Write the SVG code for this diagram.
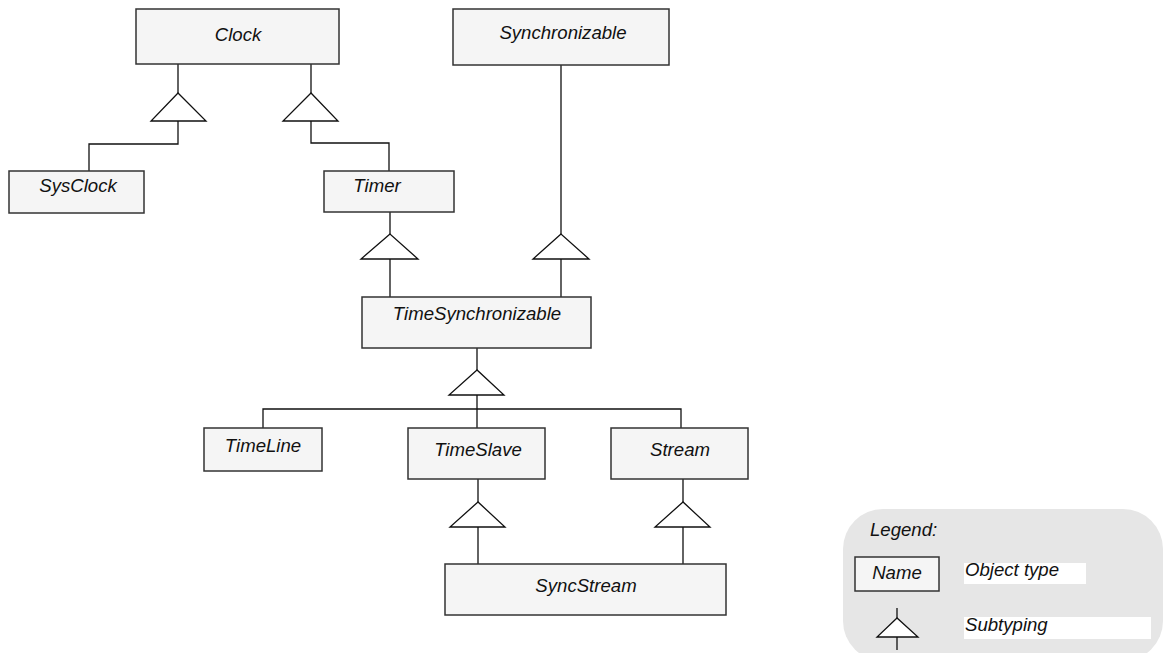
<svg xmlns="http://www.w3.org/2000/svg" width="1165" height="653" viewBox="0 0 1165 653">
<style>
.box{fill:#f5f5f5;stroke:#333;stroke-width:1.5}
.t{font-family:"Liberation Sans",Arial,sans-serif;font-style:italic;font-size:18.6px;fill:#111}
.c{text-anchor:middle}
.ln{fill:none;stroke:#111;stroke-width:1.3}
.tri{fill:#fff;stroke:#111;stroke-width:1.3}
</style>
<rect width="1165" height="653" fill="#fff"/>
<g id="connectors">
<path class="ln" d="M178 64V93M178 121V144H89V171"/>
<polygon class="tri" points="178,93 151,121 206,121"/>
<path class="ln" d="M311 64V93M311 121V143H389V171"/>
<polygon class="tri" points="311,93 283,121 338,121"/>
<path class="ln" d="M390 212V234M390 259V297"/>
<polygon class="tri" points="390,234 361,259 418,259"/>
<path class="ln" d="M561 65V234M561 259V297"/>
<polygon class="tri" points="561,234 533,259 589,259"/>
<path class="ln" d="M477 348V370M477 395V428M263 428V409H681V428"/>
<polygon class="tri" points="477,370 449,395 504,395"/>
<path class="ln" d="M478 479V502M478 527V564"/>
<polygon class="tri" points="478,502 450,527 505,527"/>
<path class="ln" d="M683 479V502M683 527V564"/>
<polygon class="tri" points="683,502 655,527 710,527"/>
</g>
<g id="Clock"><rect class="box" x="136" y="9" width="203" height="55"/><text class="t c" x="238" y="41">Clock</text></g>
<g id="Synchronizable"><rect class="box" x="453" y="9" width="216" height="56"/><text class="t c" x="563" y="39">Synchronizable</text></g>
<g id="SysClock"><rect class="box" x="9" y="171" width="135" height="42"/><text class="t c" x="78" y="192">SysClock</text></g>
<g id="Timer"><rect class="box" x="324" y="171" width="130" height="41"/><text class="t c" x="377" y="192">Timer</text></g>
<g id="TimeSynchronizable"><rect class="box" x="362" y="297" width="229" height="51"/><text class="t c" x="477" y="320">TimeSynchronizable</text></g>
<g id="TimeLine"><rect class="box" x="204" y="428" width="118" height="43"/><text class="t c" x="263" y="452">TimeLine</text></g>
<g id="TimeSlave"><rect class="box" x="408" y="428" width="137" height="51"/><text class="t c" x="478" y="456">TimeSlave</text></g>
<g id="Stream"><rect class="box" x="611" y="428" width="137" height="51"/><text class="t c" x="680" y="456">Stream</text></g>
<g id="SyncStream"><rect class="box" x="445" y="564" width="281" height="51"/><text class="t c" x="586" y="592">SyncStream</text></g>
<g id="legend">
<rect x="843" y="509" width="320" height="152" rx="40" ry="40" fill="#e6e6e6"/>
<text class="t" x="870" y="536">Legend:</text>
<rect class="box" x="855" y="557" width="84" height="34"/>
<text class="t c" x="897" y="579">Name</text>
<rect x="964" y="563" width="122" height="21" fill="#fff"/>
<text class="t" x="965" y="576">Object type</text>
<path class="ln" d="M897 608V618M897 637V650"/>
<polygon class="tri" points="897,618 877,637 918,637"/>
<rect x="964" y="617" width="187" height="22" fill="#fff"/>
<text class="t" x="965" y="631">Subtyping</text>
</g>
</svg>
